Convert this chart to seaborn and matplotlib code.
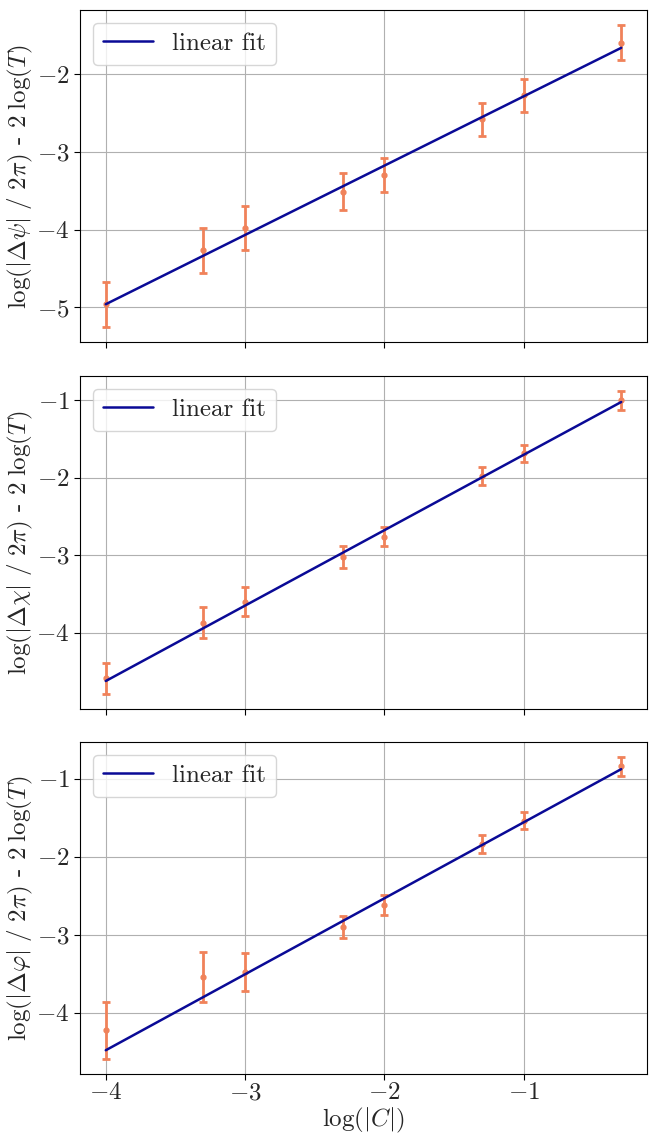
import numpy as np
import pandas as pd
import matplotlib
matplotlib.use("Agg")
import matplotlib.pyplot as plt
import seaborn as sns

# ---- data ----
log_C = [-4.0, -3.3, -3.0, -2.3, -2.0, -1.3, -1.0, -0.3]

psi_vals = [-4.96, -4.265, -3.98, -3.51, -3.29, -2.58, -2.27, -1.59]
psi_errs = [0.29, 0.285, 0.28, 0.235, 0.22, 0.215, 0.215, 0.225]
psi_fit = (0.892, -1.39)   # slope, intercept

chi_vals = [-4.59, -3.87, -3.60, -3.02, -2.76, -1.98, -1.685, -1.00]
chi_errs = [0.20, 0.20, 0.19, 0.14, 0.125, 0.115, 0.115, 0.12]
chi_fit = (0.974, -0.728)

phi_vals = [-4.226, -3.54, -3.48, -2.90, -2.62, -1.84, -1.536, -0.843]
phi_errs = [0.366, 0.32, 0.245, 0.143, 0.125, 0.117, 0.113, 0.12]
phi_fit = (0.974, -0.585)

ylabels = [r"$\log(|\Delta\psi|\ /\ 2\pi)$ - $2\;\log(T)$",
           r"$\log(|\Delta\chi|\ /\ 2\pi)$ - $2\;\log(T)$",
           r"$\log(|\Delta\varphi|\ /\ 2\pi)$ - $2\;\log(T)$"]
xlabel = r"$\log(|C|)$"
legend_label = "linear fit"

sns.set_style("white")
plt.rcParams["font.family"] = ["serif"]
plt.rcParams["font.serif"] = ["cmr10", "DejaVu Serif"]
plt.rcParams["mathtext.fontset"] = "cm"
plt.rcParams["axes.formatter.use_mathtext"] = True
plt.rcParams["axes.unicode_minus"] = True

FS = 18
point_color = "#F0825A"
line_color = "#0A0A96"

fig = plt.figure(figsize=(6.49, 11.34), dpi=100)
W, H = 649, 1134
left, right = 80, 647
tops = [10, 376, 742]
bots = [342, 709, 1074]
axes = []
for i in range(3):
    ax = fig.add_axes([left / W, 1 - bots[i] / H, (right - left) / W, (bots[i] - tops[i]) / H],
                      sharex=axes[0] if axes else None)
    axes.append(ax)

datasets = [(psi_vals, psi_errs, psi_fit), (chi_vals, chi_errs, chi_fit), (phi_vals, phi_errs, phi_fit)]
xarr = np.array(log_C)
for i, (ax, (vals, errs, fit)) in enumerate(zip(axes, datasets)):
    ax.grid(True, color="#b0b0b0", linewidth=0.8, zorder=0)
    ax.errorbar(log_C, vals, yerr=errs, fmt="o", color=point_color, markersize=3.5,
                elinewidth=2, capsize=3, capthick=2, zorder=2)
    df = pd.DataFrame({"x": xarr, "y": fit[0] * xarr + fit[1]})
    sns.lineplot(data=df, x="x", y="y", ax=ax, color=line_color, linewidth=1.8,
                 label=legend_label, zorder=3)
    ax.set_ylabel(ylabels[i], fontsize=FS, labelpad=1)
    ax.set_xlabel("")
    ax.tick_params(axis="both", labelsize=FS, direction="out", length=4, width=0.8,
                   bottom=True, left=True, color="black")
    ax.tick_params(axis="x", pad=2)
    for sp in ax.spines.values():
        sp.set_color("black")
        sp.set_linewidth(0.8)
    leg = ax.legend(loc="upper left", fontsize=FS, frameon=True, fancybox=True,
                    framealpha=0.8, edgecolor="#cccccc")
    ax.set_yticks(np.arange(np.ceil(ax.get_ylim()[0]), ax.get_ylim()[1], 1.0))
    if i < 2:
        plt.setp(ax.get_xticklabels(), visible=False)

axes[-1].set_xticks([-4, -3, -2, -1])
axes[-1].set_xlabel(xlabel, fontsize=FS, labelpad=1)

fig.savefig("out.png", dpi=100)
